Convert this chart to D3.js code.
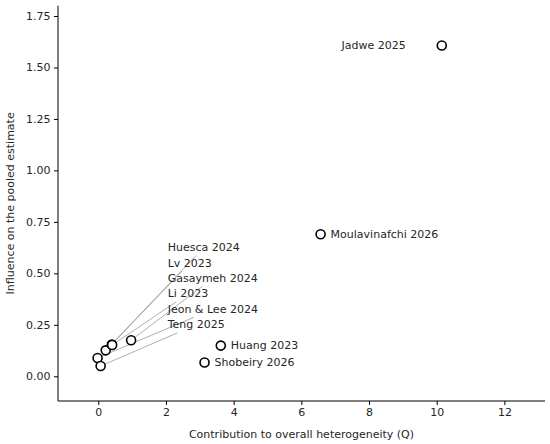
<!DOCTYPE html>
<html>
<head>
<meta charset="utf-8">
<script src="https://cdn.jsdelivr.net/npm/d3@7"></script>
<style>
  body { margin: 0; background: #fff; }
  text { font-family: "DejaVu Sans", sans-serif; fill: #262626; }
</style>
</head>
<body>
<svg id="chart" width="550" height="444"></svg>
<script>
// study labels, heterogeneity contribution (Q) and influence on pooled estimate
var studies = ["Huesca 2024", "Lv 2023", "Gasaymeh 2024", "Li 2023", "Jeon & Lee 2024", "Teng 2025",
               "Huang 2023", "Shobeiry 2026", "Moulavinafchi 2026", "Jadwe 2025"];
var qContrib = [0.22, 0.40, 0.97, 0.41, -0.02, 0.07, 3.62, 3.14, 6.57, 10.15];
var influence = [0.126, 0.154, 0.175, 0.152, 0.089, 0.050, 0.149, 0.067, 0.690, 1.607];
var xTicks = [0, 2, 4, 6, 8, 10, 12];
var yTicks = [0, 0.25, 0.5, 0.75, 1.0, 1.25, 1.5, 1.75];

// where the stacked labels of the crowded corner sit (data units)
var stackX = 2.05;
var stackY = [0.625, 0.55, 0.475, 0.40, 0.325, 0.25];

var svg = d3.select("#chart");
var mLeft = 58, mRight = 545, mTop = 5.7, mBottom = 401;
var fontSize = 11;

var x = d3.scaleLinear().domain([-1.19, 13.2]).range([mLeft, mRight]);
var y = d3.scaleLinear().domain([-0.12, 1.80]).range([mBottom, mTop]);

var xAxis = svg.append("g")
  .attr("transform", "translate(0," + mBottom + ")")
  .call(d3.axisBottom(x).tickValues(xTicks).tickFormat(d3.format("d")).tickSize(4).tickPadding(3.5));
var yAxis = svg.append("g")
  .attr("transform", "translate(" + mLeft + ",0)")
  .call(d3.axisLeft(y).tickValues(yTicks).tickFormat(d3.format(".2f")).tickSize(4).tickPadding(3.5));

[xAxis, yAxis].forEach(function(a) {
  a.select(".domain").attr("stroke", "#000").attr("stroke-width", 1);
  a.selectAll(".tick line").attr("stroke", "#000").attr("stroke-width", 1);
  a.selectAll(".tick text").attr("font-size", fontSize).attr("fill", "#262626")
    .attr("font-family", "DejaVu Sans, sans-serif");
});
// keep the spine at full plot width / height
xAxis.select(".domain").attr("d", "M" + mLeft + ",0H" + mRight);
yAxis.select(".domain").attr("d", "M0," + mBottom + "V" + mTop);

svg.append("text")
  .attr("x", (mLeft + mRight) / 2).attr("y", 438)
  .attr("text-anchor", "middle").attr("font-size", fontSize)
  .text("Contribution to overall heterogeneity (Q)");
svg.append("text")
  .attr("transform", "translate(14," + ((mTop + mBottom) / 2) + ") rotate(-90)")
  .attr("text-anchor", "middle").attr("font-size", fontSize)
  .text("Influence on the pooled estimate");

var data = studies.map(function(s, i) {
  return { name: s, q: qContrib[i], inf: influence[i], i: i };
});

var lineG = svg.append("g");
var labelG = svg.append("g");
var pointG = svg.append("g");

var labels = labelG.selectAll("text").data(data).enter().append("text")
  .attr("font-size", fontSize)
  .attr("dominant-baseline", "central")
  .attr("x", function(d) {
    if (d.i < stackY.length) return x(stackX);
    if (d.name === "Jadwe 2025") return x(d.q) - 36;
    return x(d.q) + 10;
  })
  .attr("y", function(d) {
    if (d.i < stackY.length) return y(stackY[d.i]);
    return y(d.inf);
  })
  .attr("text-anchor", function(d) { return d.name === "Jadwe 2025" ? "end" : "start"; })
  .text(function(d) { return d.name; });

// text widths through a canvas, so no layout is needed
var ctx = document.createElement("canvas").getContext("2d");
ctx.font = fontSize + "px 'DejaVu Sans'";

// leader lines for the stacked labels, from point toward label centre, clipped at the label box
data.forEach(function(d) {
  if (d.i >= stackY.length) return;
  var w = ctx.measureText(d.name).width, h = 13;
  var pad = 1.5;
  var cx = x(stackX) + w / 2, cy = y(stackY[d.i]);
  var px = x(d.q), py = y(d.inf);
  var dx = cx - px, dy = cy - py;
  var tx = (Math.abs(dx) - w / 2 - pad) / Math.abs(dx);
  var ty = (Math.abs(dy) - h / 2 - pad) / Math.abs(dy);
  var t = Math.max(0, Math.max(tx, ty));
  lineG.append("line")
    .attr("x1", px).attr("y1", py)
    .attr("x2", px + dx * t).attr("y2", py + dy * t)
    .attr("stroke", "#9a9a9a").attr("stroke-width", 0.8);
});

pointG.selectAll("circle").data(data).enter().append("circle")
  .attr("cx", function(d) { return x(d.q); })
  .attr("cy", function(d) { return y(d.inf); })
  .attr("r", 4.5)
  .attr("fill", "#fff")
  .attr("stroke", "#000")
  .attr("stroke-width", 1.6);
</script>
</body>
</html>
